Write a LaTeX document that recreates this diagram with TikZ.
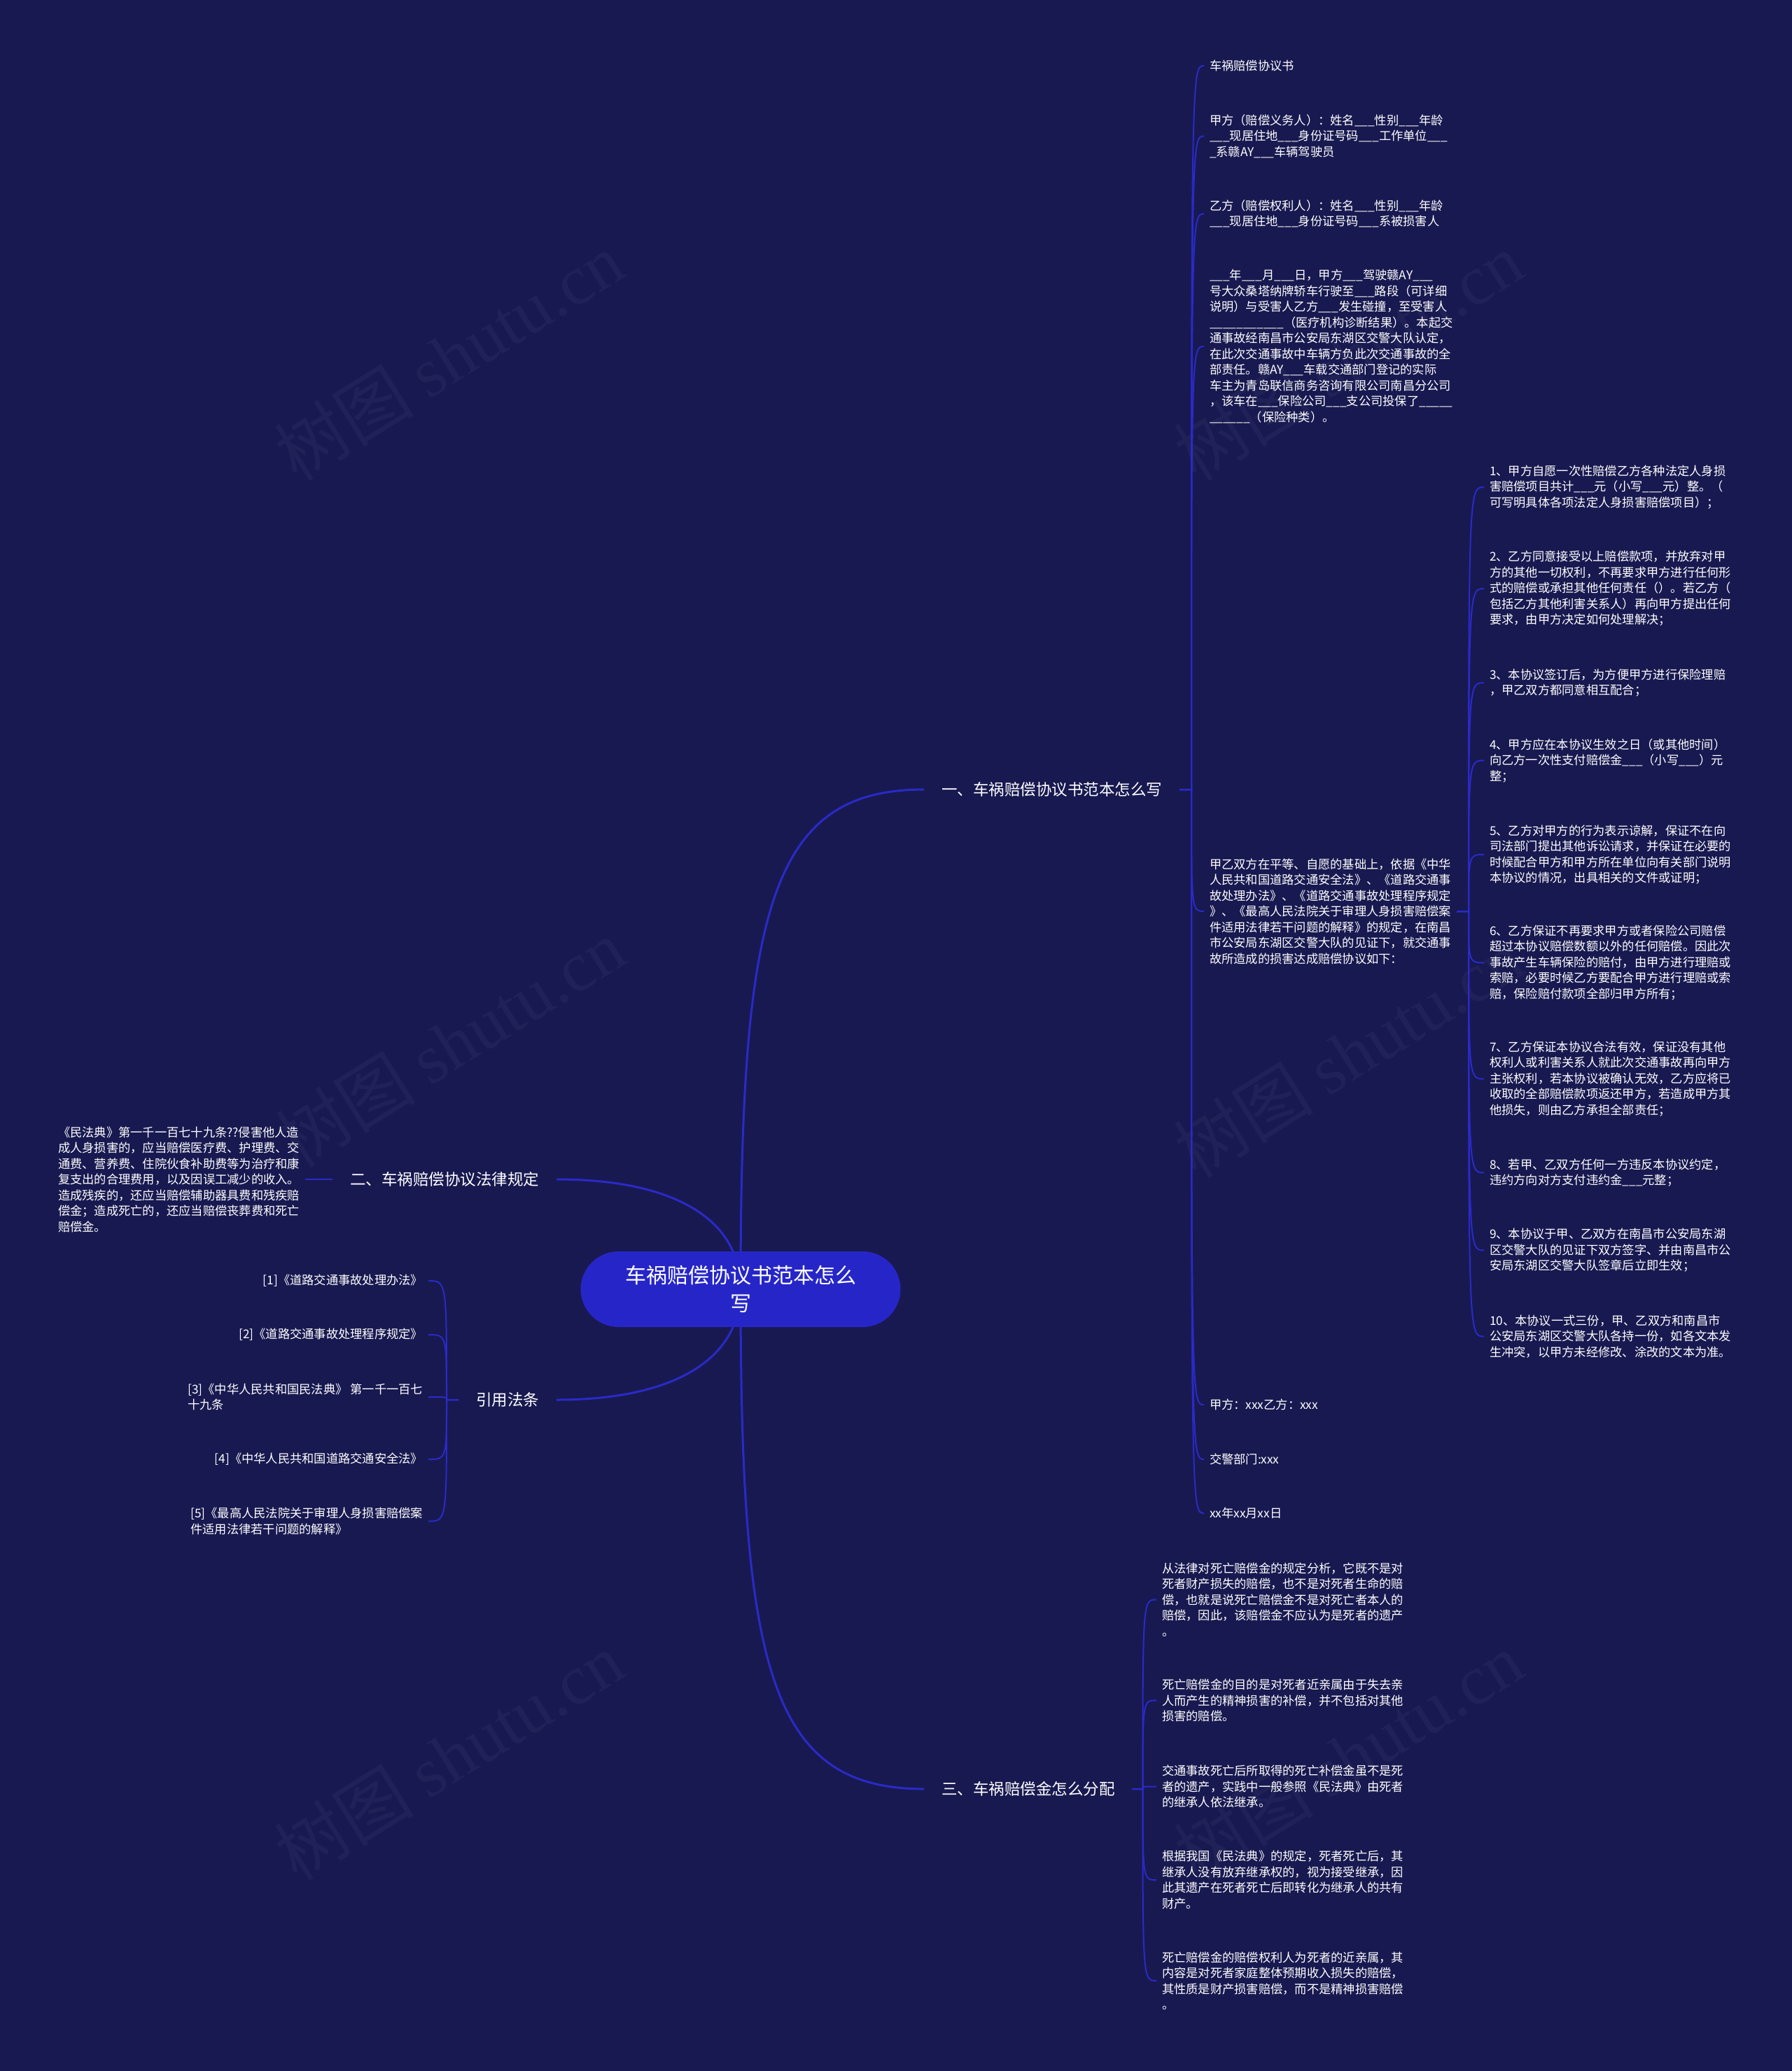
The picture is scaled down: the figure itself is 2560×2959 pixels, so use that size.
\documentclass[tikz,border=0pt]{standalone}
\usepackage{fontspec}
\setmainfont{Noto Sans CJK SC}
\newfontfamily\wmlatin{Liberation Serif}
\usetikzlibrary{calc}
\definecolor{bg}{RGB}{24,25,80}
\definecolor{ln}{RGB}{42,42,200}
\definecolor{ctrfill}{RGB}{38,38,200}
\newcommand{\myblank}{\_\_\_}
\begin{document}
\begin{tikzpicture}[x=1pt,y=-1pt,
  leaf/.style={text=white, font=\fontsize{17.25}{22.5}\selectfont, align=left, inner xsep=8pt, inner ysep=2pt, outer sep=0pt},
  branch/.style={text=white, font=\fontsize{22.5}{28}\selectfont, inner xsep=25pt, inner ysep=3pt, outer sep=0pt},
  root/.style={fill=ctrfill, text=white, rounded corners=54pt, minimum width=457pt, minimum height=108pt, align=center, font=\fontsize{30}{40}\selectfont, inner sep=0pt},
  mainline/.style={draw=ln, line width=3pt},
  brk/.style={draw=ln, line width=2pt},
  wm/.style={text=white, text opacity=0.035, font=\fontsize{100}{100}\selectfont, rotate=32}
]
\fill[bg] (0,0) rectangle (2560,2959);
\useasboundingbox (0,0) rectangle (2560,2959);

% watermarks
\node[wm] (w1) at (641,509) {树图 {\wmlatin shutu.cn}};
\node[wm] (w2) at (1926,509) {树图 {\wmlatin shutu.cn}};
\node[wm] (w3) at (643,1490) {树图 {\wmlatin shutu.cn}};
\node[wm] (w4) at (1926,1505) {树图 {\wmlatin shutu.cn}};
\node[wm] (w5) at (641,2509) {树图 {\wmlatin shutu.cn}};
\node[wm] (w6) at (1926,2509) {树图 {\wmlatin shutu.cn}};

% center coordinate
\coordinate (ctrc) at (1058,1842);

% branch labels
\node[branch, anchor=west] (b1) at (1320,1128) {一、车祸赔偿协议书范本怎么写};
\node[branch, anchor=east] (b2) at (795,1685) {二、车祸赔偿协议法律规定};
\node[branch, anchor=east] (b4) at (795,2000) {引用法条};
\node[branch, anchor=west] (b3) at (1320,2556) {三、车祸赔偿金怎么分配};

% main curves
\draw[mainline] (ctrc) .. controls ($(ctrc)+(0,-542)$) and ($(b1.west)+(-220,0)$) .. (b1.west);
\draw[mainline] (ctrc) .. controls ($(ctrc)+(0,542)$) and ($(b3.west)+(-220,0)$) .. (b3.west);
\draw[mainline] (ctrc) .. controls ($(ctrc)+(0,-102)$) and ($(b2.east)+(165,0)$) .. (b2.east);
\draw[mainline] (ctrc) .. controls ($(ctrc)+(0,102)$) and ($(b4.east)+(165,0)$) .. (b4.east);

% root
\node[root] (root) at (ctrc) {车祸赔偿协议书范本怎么\\写};

% branch 1 children
\node[leaf, anchor=west] (c1) at (1720,94) {车祸赔偿协议书};
\node[leaf, anchor=west] (c2) at (1720,194.5) {甲方（赔偿义务人）：姓名\myblank 性别\myblank 年龄\\\myblank 现居住地\myblank 身份证号码\myblank 工作单位\myblank\\\_系赣AY\myblank 车辆驾驶员};
\node[leaf, anchor=west] (c3) at (1720,305.5) {乙方（赔偿权利人）：姓名\myblank 性别\myblank 年龄\\\myblank 现居住地\myblank 身份证号码\myblank 系被损害人};
\node[leaf, anchor=west] (c4) at (1720,495) {\myblank 年\myblank 月\myblank 日，甲方\myblank 驾驶赣AY\myblank\\号大众桑塔纳牌轿车行驶至\myblank 路段（可详细\\说明）与受害人乙方\myblank 发生碰撞，至受害人\\\_\_\_\_\_\_\_\_\_\_\_（医疗机构诊断结果）。本起交\\通事故经南昌市公安局东湖区交警大队认定，\\在此次交通事故中车辆方负此次交通事故的全\\部责任。赣AY\myblank 车载交通部门登记的实际\\车主为青岛联信商务咨询有限公司南昌分公司\\，该车在\myblank 保险公司\myblank 支公司投保了\_\_\_\_\_\\\_\_\_\_\_\_（保险种类）。};
\node[leaf, anchor=west] (c5) at (1720,1302) {甲乙双方在平等、自愿的基础上，依据《中华\\人民共和国道路交通安全法》、《道路交通事\\故处理办法》、《道路交通事故处理程序规定\\》、《最高人民法院关于审理人身损害赔偿案\\件适用法律若干问题的解释》的规定，在南昌\\市公安局东湖区交警大队的见证下，就交通事\\故所造成的损害达成赔偿协议如下：};
\node[leaf, anchor=west] (c6) at (1720,2007) {甲方：xxx乙方：xxx};
\node[leaf, anchor=west] (c7) at (1720,2085) {交警部门:xxx};
\node[leaf, anchor=west] (c8) at (1720,2162) {xx年xx月xx日};

\coordinate (k1) at ($(b1.east)+(17,0)$);
\foreach \c in {c1,c2,c3,c4,c5,c6,c7,c8}
  \draw[brk] (b1.east) -- (k1) .. controls (k1 |- \c.west) .. (\c.west);

% sub children of c5
\node[leaf, anchor=west] (s1) at (2120,696) {1、甲方自愿一次性赔偿乙方各种法定人身损\\害赔偿项目共计\myblank 元（小写\myblank 元）整。（\\可写明具体各项法定人身损害赔偿项目）；};
\node[leaf, anchor=west] (s2) at (2120,841) {2、乙方同意接受以上赔偿款项，并放弃对甲\\方的其他一切权利，不再要求甲方进行任何形\\式的赔偿或承担其他任何责任（）。若乙方（\\包括乙方其他利害关系人）再向甲方提出任何\\要求，由甲方决定如何处理解决；};
\node[leaf, anchor=west] (s3) at (2120,975.5) {3、本协议签订后，为方便甲方进行保险理赔\\，甲乙双方都同意相互配合；};
\node[leaf, anchor=west] (s4) at (2120,1086.5) {4、甲方应在本协议生效之日（或其他时间）\\向乙方一次性支付赔偿金\myblank（小写\myblank）元\\整；};
\node[leaf, anchor=west] (s5) at (2120,1221) {5、乙方对甲方的行为表示谅解，保证不在向\\司法部门提出其他诉讼请求，并保证在必要的\\时候配合甲方和甲方所在单位向有关部门说明\\本协议的情况，出具相关的文件或证明；};
\node[leaf, anchor=west] (s6) at (2120,1375.5) {6、乙方保证不再要求甲方或者保险公司赔偿\\超过本协议赔偿数额以外的任何赔偿。因此次\\事故产生车辆保险的赔付，由甲方进行理赔或\\索赔，必要时候乙方要配合甲方进行理赔或索\\赔，保险赔付款项全部归甲方所有；};
\node[leaf, anchor=west] (s7) at (2120,1541.5) {7、乙方保证本协议合法有效，保证没有其他\\权利人或利害关系人就此次交通事故再向甲方\\主张权利，若本协议被确认无效，乙方应将已\\收取的全部赔偿款项返还甲方，若造成甲方其\\他损失，则由乙方承担全部责任；};
\node[leaf, anchor=west] (s8) at (2120,1675.5) {8、若甲、乙双方任何一方违反本协议约定，\\违约方向对方支付违约金\myblank 元整；};
\node[leaf, anchor=west] (s9) at (2120,1786.5) {9、本协议于甲、乙双方在南昌市公安局东湖\\区交警大队的见证下双方签字、并由南昌市公\\安局东湖区交警大队签章后立即生效；};
\node[leaf, anchor=west] (s10) at (2120,1909.5) {10、本协议一式三份，甲、乙双方和南昌市\\公安局东湖区交警大队各持一份，如各文本发\\生冲突，以甲方未经修改、涂改的文本为准。};

\coordinate (k5) at ($(c5.east)+(17,0)$);
\foreach \c in {s1,s2,s3,s4,s5,s6,s7,s8,s9,s10}
  \draw[brk] (c5.east) -- (k5) .. controls (k5 |- \c.west) .. (\c.west);

% branch 2 child
\node[leaf, anchor=west] (l1) at (75,1685) {《民法典》第一千一百七十九条??侵害他人造\\成人身损害的，应当赔偿医疗费、护理费、交\\通费、营养费、住院伙食补助费等为治疗和康\\复支出的合理费用，以及因误工减少的收入。\\造成残疾的，还应当赔偿辅助器具费和残疾赔\\偿金；造成死亡的，还应当赔偿丧葬费和死亡\\赔偿金。};
\draw[brk] (b2.west) -- (l1.east);

% citations
\node[leaf, anchor=east] (r1) at (612,1830) {[1]《道路交通事故处理办法》};
\node[leaf, anchor=east] (r2) at (612,1907) {[2]《道路交通事故处理程序规定》};
\node[leaf, anchor=east] (r3) at (612,1996) {[3]《中华人民共和国民法典》 第一千一百七\\十九条};
\node[leaf, anchor=east] (r4) at (612,2085) {[4]《中华人民共和国道路交通安全法》};
\node[leaf, anchor=east] (r5) at (612,2173.5) {[5]《最高人民法院关于审理人身损害赔偿案\\件适用法律若干问题的解释》};
\coordinate (k4) at ($(b4.west)+(-17,0)$);
\foreach \c in {r1,r2,r3,r4,r5}
  \draw[brk] (b4.west) -- (k4) .. controls (k4 |- \c.east) .. (\c.east);

% branch 3 children
\node[leaf, anchor=west] (t1) at (1652,2285.5) {从法律对死亡赔偿金的规定分析，它既不是对\\死者财产损失的赔偿，也不是对死者生命的赔\\偿，也就是说死亡赔偿金不是对死亡者本人的\\赔偿，因此，该赔偿金不应认为是死者的遗产\\。};
\node[leaf, anchor=west] (t2) at (1652,2429.5) {死亡赔偿金的目的是对死者近亲属由于失去亲\\人而产生的精神损害的补偿，并不包括对其他\\损害的赔偿。};
\node[leaf, anchor=west] (t3) at (1652,2552.5) {交通事故死亡后所取得的死亡补偿金虽不是死\\者的遗产，实践中一般参照《民法典》由死者\\的继承人依法继承。};
\node[leaf, anchor=west] (t4) at (1652,2686) {根据我国《民法典》的规定，死者死亡后，其\\继承人没有放弃继承权的，视为接受继承，因\\此其遗产在死者死亡后即转化为继承人的共有\\财产。};
\node[leaf, anchor=west] (t5) at (1652,2830) {死亡赔偿金的赔偿权利人为死者的近亲属，其\\内容是对死者家庭整体预期收入损失的赔偿，\\其性质是财产损害赔偿，而不是精神损害赔偿\\。};
\coordinate (k3) at ($(b3.east)+(15,0)$);
\foreach \c in {t1,t2,t3,t4,t5}
  \draw[brk] (b3.east) -- (k3) .. controls (k3 |- \c.west) .. (\c.west);
\end{tikzpicture}
\end{document}
